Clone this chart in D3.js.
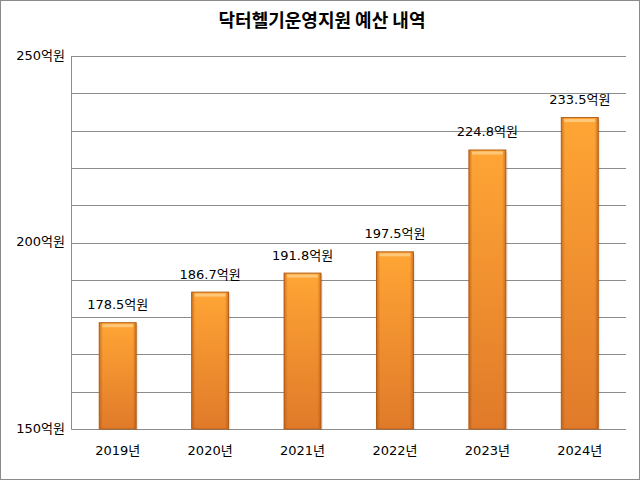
<!DOCTYPE html>
<html>
<head>
<meta charset="utf-8">
<script src="https://cdn.jsdelivr.net/npm/d3@7"></script>
<style>
  body { margin: 0; background: #fff; }
  text { font-family: "DejaVu Sans", "Noto Sans CJK KR", sans-serif; fill: #000; }
  .title { font-family: "Noto Sans CJK KR", sans-serif; }
</style>
</head>
<body>
<script>
// chart data
var years = ["2019년", "2020년", "2021년", "2022년", "2023년", "2024년"];
var budget = [178.5, 186.7, 191.8, 197.5, 224.8, 233.5];
var yTicks = [150, 200, 250];
var titleText = "닥터헬기운영지원 예산 내역";

var width = 641, height = 481;
var margin = { top: 56, right: 15, bottom: 52, left: 71.5 };

var svg = d3.select("body").append("svg")
    .attr("width", width)
    .attr("height", height);

//Outer frame
svg.append("rect")
    .attr("x", 0.5).attr("y", 0.5)
    .attr("width", width - 2).attr("height", height - 2)
    .attr("fill", "#fff")
    .attr("stroke", "#8a8a8a");

//Gradients for the bars
var defs = svg.append("defs");
var grad = defs.append("linearGradient")
    .attr("id", "barFill")
    .attr("x1", 0).attr("y1", 0).attr("x2", 0).attr("y2", 1);
grad.append("stop").attr("offset", "0%").attr("stop-color", "#ffa535");
grad.append("stop").attr("offset", "100%").attr("stop-color", "#e07a2a");

var side = defs.append("linearGradient")
    .attr("id", "barSide")
    .attr("x1", 0).attr("y1", 0).attr("x2", 1).attr("y2", 0);
side.append("stop").attr("offset", "0%").attr("stop-color", "#a85010").attr("stop-opacity", 0.55);
side.append("stop").attr("offset", "10%").attr("stop-color", "#a85010").attr("stop-opacity", 0);
side.append("stop").attr("offset", "90%").attr("stop-color", "#a85010").attr("stop-opacity", 0);
side.append("stop").attr("offset", "100%").attr("stop-color", "#a85010").attr("stop-opacity", 0.55);

var x = d3.scaleBand()
    .domain(years)
    .range([margin.left, width - margin.right])
    .paddingInner(0.6)
    .paddingOuter(0.3);

var y = d3.scaleLinear()
    .domain([150, 250])
    .range([height - margin.bottom, margin.top]);

//Title
svg.append("text")
    .attr("class", "title")
    .attr("x", 322)
    .attr("y", 22)
    .attr("text-anchor", "middle")
    .attr("dominant-baseline", "middle")
    .style("font-size", "18px")
    .style("font-weight", "bold")
    .text(titleText);

//Gridlines
svg.append("g")
    .selectAll("line")
    .data(d3.range(150, 251, 10))
    .join("line")
    .attr("x1", margin.left)
    .attr("x2", width - margin.right)
    .attr("y1", function (d) { return Math.round(y(d)) + 0.5; })
    .attr("y2", function (d) { return Math.round(y(d)) + 0.5; })
    .attr("stroke", "#8c8c8c");

//Left axis line
svg.append("line")
    .attr("x1", margin.left).attr("x2", margin.left)
    .attr("y1", y(250)).attr("y2", y(150) + 0.5)
    .attr("stroke", "#8c8c8c");

//Y tick labels
svg.append("g")
    .selectAll("text")
    .data(yTicks)
    .join("text")
    .attr("x", 65)
    .attr("y", function (d) { return y(d); })
    .attr("text-anchor", "end")
    .attr("dominant-baseline", "middle")
    .style("font-size", "13px")
    .text(function (d) { return d + "억원"; });

//Bars
var bars = svg.append("g")
    .selectAll("g")
    .data(budget)
    .join("g");

bars.append("rect")
    .attr("x", function (d, i) { return x(years[i]) + 2; })
    .attr("y", function (d) { return y(d) + 2; })
    .attr("width", x.bandwidth())
    .attr("height", function (d) { return y(150) - y(d) - 1; })
    .attr("fill", "#000")
    .attr("opacity", 0.08);

bars.append("rect")
    .attr("x", function (d, i) { return x(years[i]); })
    .attr("y", function (d) { return y(d); })
    .attr("width", x.bandwidth())
    .attr("height", function (d) { return y(150) - y(d); })
    .attr("fill", "url(#barFill)")
    .attr("stroke", "#b5611a")
    .attr("stroke-width", 1);

bars.append("rect")
    .attr("x", function (d, i) { return x(years[i]); })
    .attr("y", function (d) { return y(d); })
    .attr("width", x.bandwidth())
    .attr("height", function (d) { return y(150) - y(d); })
    .attr("fill", "url(#barSide)");

//Top bevel highlight
bars.append("rect")
    .attr("x", function (d, i) { return x(years[i]) + 3; })
    .attr("y", function (d) { return y(d) + 1.5; })
    .attr("width", x.bandwidth() - 6)
    .attr("height", 3)
    .attr("fill", "#ffd08a")
    .attr("opacity", 0.8);

//Value labels
bars.append("text")
    .attr("x", function (d, i) { return x(years[i]) + x.bandwidth() / 2; })
    .attr("y", function (d) { return y(d) - 17; })
    .attr("text-anchor", "middle")
    .attr("dominant-baseline", "middle")
    .style("font-size", "13px")
    .text(function (d) { return d.toFixed(1) + "억원"; });

//X labels
svg.append("g")
    .selectAll("text")
    .data(years)
    .join("text")
    .attr("x", function (d) { return x(d) + x.bandwidth() / 2; })
    .attr("y", 451)
    .attr("text-anchor", "middle")
    .attr("dominant-baseline", "middle")
    .style("font-size", "13px")
    .text(function (d) { return d; });
</script>
</body>
</html>
